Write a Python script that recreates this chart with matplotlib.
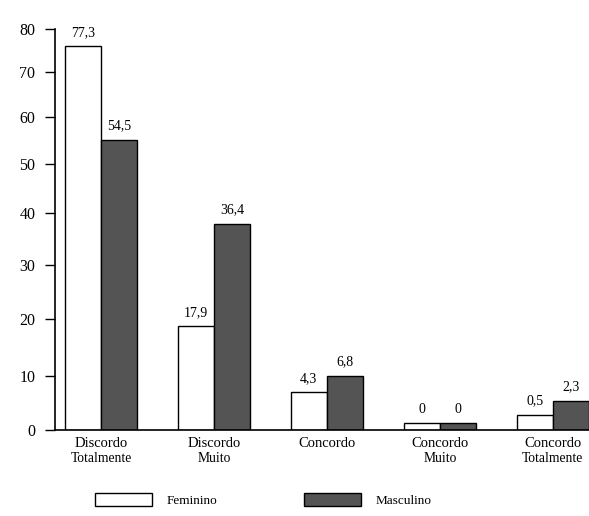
import numpy as np
import matplotlib
matplotlib.use("Agg")
import matplotlib.pyplot as plt

# categories, split in two lines as printed under the axis
cat_line1 = ["Discordo", "Discordo", "Concordo", "Concordo", "Concordo"]
cat_line2 = ["Totalmente", "Muito", "", "Muito", "Totalmente"]

# printed values above the bars
fem_labels = ["77,3", "17,9", "4,3", "0", "0,5"]
masc_labels = ["54,5", "36,4", "6,8", "0", "2,3"]

# bar heights as drawn against the axis
fem_height = [76.0, 18.7, 7.0, 1.3, 2.8]
masc_height = [55.1, 37.9, 10.0, 1.3, 5.4]

series_names = ["Feminino", "Masculino"]

# the printed axis is not evenly spaced: tick value -> distance from baseline
tick_vals = [0, 10, 20, 30, 40, 50, 60, 70, 80]
tick_pos = [0, 54, 111, 165, 217, 266, 313, 358, 401]


def fwd(v):
    return np.interp(v, tick_vals, tick_pos, left=-1e-9, right=401)


def inv(p):
    return np.interp(p, tick_pos, tick_vals)


plt.rcParams['font.family'] = ['Liberation Serif', 'DejaVu Serif']

fig = plt.figure(figsize=(5.89, 5.16), dpi=100)
ax = fig.add_axes([55 / 589, 1 - 430 / 516, 534 / 589, 401 / 516])

x = np.arange(len(cat_line1))
w = 0.32
b1 = ax.bar(x - w / 2, fem_height, w, color="white", edgecolor="black",
            linewidth=1.0, label=series_names[0])
b2 = ax.bar(x + w / 2, masc_height, w, color="#545454", edgecolor="black",
            linewidth=1.0, label=series_names[1])

ax.set_yscale('function', functions=(fwd, inv))
ax.set_ylim(0, 80)
ax.set_xlim(-0.407, 4.32)
ax.set_yticks(tick_vals)
ax.set_xticks([])

for s in ['top', 'right']:
    ax.spines[s].set_visible(False)
ax.spines['left'].set_linewidth(1.2)
ax.spines['bottom'].set_linewidth(1.2)
ax.tick_params(axis='y', length=7.2, width=1.0, pad=7, labelsize=11.5)

for bars, labs in [(b1, fem_labels), (b2, masc_labels)]:
    for r, lab in zip(bars, labs):
        ax.annotate(lab, (r.get_x() + r.get_width() / 2, r.get_height()),
                    xytext=(0, 10), textcoords='offset points',
                    ha='center', va='center', fontsize=10)

trans = ax.get_xaxis_transform()
for i in range(len(x)):
    ax.annotate(cat_line1[i], (x[i], 0), xycoords=trans,
                xytext=(0, -9.5), textcoords='offset points',
                ha='center', va='center', fontsize=10.5, annotation_clip=False)
    if cat_line2[i]:
        ax.annotate(cat_line2[i], (x[i], 0), xycoords=trans,
                    xytext=(0, -20.5), textcoords='offset points',
                    ha='center', va='center', fontsize=9.8, annotation_clip=False)

fig.legend(handles=[b1, b2], loc='center left',
           bbox_to_anchor=(95 / 589, 1 - 500 / 516), ncol=2, frameon=False,
           fontsize=9.5, handlelength=4.3, handleheight=1.1,
           handletextpad=1.1, columnspacing=6.6, borderpad=0, borderaxespad=0)

fig.savefig("out.png", dpi=100)
